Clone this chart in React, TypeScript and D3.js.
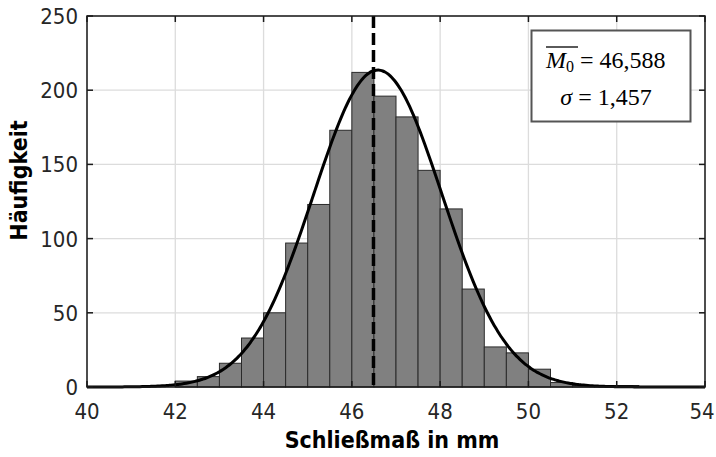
import React from "react";
import * as d3 from "d3";

// ---- data ----
const binStarts = [42, 42.5, 43, 43.5, 44, 44.5, 45, 45.5, 46, 46.5, 47, 47.5, 48, 48.5, 49, 49.5, 50, 50.5, 51, 51.5, 52];
const binCounts = [4, 7, 16, 33, 50, 97, 123, 173, 212, 196, 182, 146, 120, 66, 27, 23, 12, 3, 1, 1, 1];
const BIN_WIDTH = 0.5;
const MEAN = 46.588;
const SIGMA = 1.457;
const SAMPLE_COUNT = 1560;
const MEAN_LINE_X = 46.49;
const xTicks = [40, 42, 44, 46, 48, 50, 52, 54];
const yTicks = [0, 50, 100, 150, 200, 250];
const xLabel = "Schließmaß in mm";
const yLabel = "Häufigkeit";
const meanLabel = "46,588";
const sigmaLabel = "1,457";

const W = 716, H = 457;
const L = 87, R = 705, T = 16, B = 387;

export default function App() {
  const x = d3.scaleLinear().domain([40, 54]).range([L, R]);
  const y = d3.scaleLinear().domain([0, 250]).range([B, T]);

  const pdf = (v: number) =>
    (SAMPLE_COUNT * BIN_WIDTH) / (SIGMA * Math.sqrt(2 * Math.PI)) *
    Math.exp(-0.5 * ((v - MEAN) / SIGMA) ** 2);
  const curvePts = d3.range(40, 54.001, 0.05).map((v) => [v, pdf(v)] as [number, number]);
  const line = d3.line<[number, number]>().x((d) => x(d[0])).y((d) => y(d[1])).curve(d3.curveMonotoneX);

  const tickFont = "'DejaVu Sans Condensed', 'DejaVu Sans', sans-serif";
  const gridColor = "#dcdcdc";

  return (
    <svg width={W} height={H} style={{ position: "absolute", left: 0, top: 0, background: "#fff" }}>
      <rect x={0} y={0} width={W} height={H} fill="#fff" />
      {/* grid */}
      {xTicks.map((t) => (
        <line key={"gx" + t} x1={x(t)} x2={x(t)} y1={T} y2={B} stroke={gridColor} strokeWidth={1.3} />
      ))}
      {yTicks.map((t) => (
        <line key={"gy" + t} x1={L} x2={R} y1={y(t)} y2={y(t)} stroke={gridColor} strokeWidth={1.3} />
      ))}
      {/* bars */}
      {binStarts.map((s, i) => (
        <rect
          key={"b" + i}
          x={x(s)}
          y={y(binCounts[i])}
          width={x(s + BIN_WIDTH) - x(s)}
          height={y(0) - y(binCounts[i])}
          fill="#808080"
          stroke="#2a2a2a"
          strokeWidth={1}
        />
      ))}
      {/* fitted curve */}
      <path d={line(curvePts) || ""} fill="none" stroke="#000" strokeWidth={3} />
      {/* mean line */}
      <line x1={x(MEAN_LINE_X)} x2={x(MEAN_LINE_X)} y1={T} y2={B} stroke="#000" strokeWidth={3.5} strokeDasharray="12,5" />
      {/* axes box */}
      <rect x={L} y={T} width={R - L} height={B - T} fill="none" stroke="#1a1a1a" strokeWidth={1.5} />
      {xTicks.map((t) => (
        <g key={"tx" + t}>
          <line x1={x(t)} x2={x(t)} y1={B} y2={B - 6} stroke="#1a1a1a" strokeWidth={1.5} />
          <line x1={x(t)} x2={x(t)} y1={T} y2={T + 6} stroke="#1a1a1a" strokeWidth={1.5} />
          <text x={Math.min(x(t), W - 14)} y={419} textAnchor="middle" fontFamily={tickFont} fontStretch="condensed" fontSize={22} fill="#262626">
            {t}
          </text>
        </g>
      ))}
      {yTicks.map((t) => (
        <g key={"ty" + t}>
          <line x1={L} x2={L + 6} y1={y(t)} y2={y(t)} stroke="#1a1a1a" strokeWidth={1.5} />
          <line x1={R} x2={R - 6} y1={y(t)} y2={y(t)} stroke="#1a1a1a" strokeWidth={1.5} />
          <text x={78} y={y(t) + 8} textAnchor="end" fontFamily={tickFont} fontStretch="condensed" fontSize={22} fill="#262626">
            {t}
          </text>
        </g>
      ))}
      {/* axis labels */}
      <text x={392} y={448} textAnchor="middle" fontFamily={tickFont} fontStretch="condensed" fontWeight="bold" fontSize={23} fill="#000">
        {xLabel}
      </text>
      <text
        transform={`translate(27, ${(T + B) / 2 - 21}) rotate(-90)`}
        textAnchor="middle"
        fontFamily={tickFont}
        fontStretch="condensed"
        fontWeight="bold"
        fontSize={23}
        fill="#000"
      >
        {yLabel}
      </text>
      {/* legend */}
      <rect x={531.5} y={30.5} width={159} height={91} fill="#fff" stroke="#555" strokeWidth={2} />
      <g fontFamily="'Liberation Serif', 'DejaVu Serif', serif" fontSize={24} fill="#000">
        <text x={546} y={68}>
          <tspan fontStyle="italic">M</tspan>
          <tspan fontSize={16} dy={4}>0</tspan>
          <tspan dy={-4}>{" = " + meanLabel}</tspan>
        </text>
        <line x1={546} x2={578} y1={47} y2={47} stroke="#000" strokeWidth={1.3} />
        <text x={606} y={105} textAnchor="middle">
          <tspan fontStyle="italic">σ</tspan>
          <tspan>{" = " + sigmaLabel}</tspan>
        </text>
      </g>
    </svg>
  );
}
